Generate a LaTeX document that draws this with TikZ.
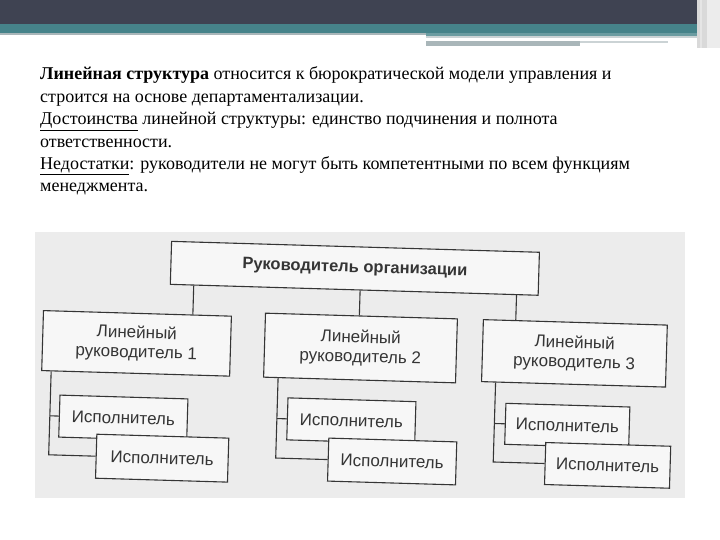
\documentclass[tikz,border=0pt]{standalone}
\usepackage{fontspec}
\setmainfont{Liberation Serif}
\newfontfamily\diagfont{Liberation Sans}
\usetikzlibrary{calc}
\definecolor{hdrdark}{HTML}{3F4352}
\definecolor{hdrteal}{HTML}{46838A}
\definecolor{hdrline}{HTML}{A9B6B9}
\definecolor{photobg}{HTML}{ECECEC}
\definecolor{boxfill}{HTML}{F7F7F7}
\definecolor{ink}{HTML}{353535}
\begin{document}
\begin{tikzpicture}[x=1pt,y=-1pt,
  para/.style={anchor=base west, inner sep=0pt, font=\fontsize{18}{20}\selectfont},
  orgbox/.style={draw=ink, line width=1.1pt, fill=boxfill, inner sep=0pt, align=center,
    text=ink, font=\diagfont\fontsize{17}{19.5}\selectfont, transform shape},
  link/.style={draw=ink, line width=1.1pt}]
\useasboundingbox (0,0) rectangle (720,540);
\fill[white] (0,0) rectangle (720,540);
% header band
\fill[hdrdark] (0,0) rectangle (720,24);
\fill[hdrteal] (0,24) rectangle (720,33);
\fill[hdrline] (0,33) rectangle (426,35);
\fill[hdrteal!80] (426,33) rectangle (697,36);
\fill[hdrline!60] (426,36) rectangle (697,38);
\fill[hdrline] (426,41) rectangle (580,46);
\fill[hdrline!60] (580,41) rectangle (668,43.5);
\fill[gray!30] (697,0) rectangle (720,48);
\fill[white!80!gray] (700,0) rectangle (702,48);
\fill[white!85!gray] (707,0) rectangle (720,48);
% paragraph
\node[para] (t1) at (40,80) {\textbf{Линейная структура} относится к бюрократической модели управления и};
\node[para] (t2) at (40,102.4) {строится на основе департаментализации.};
\node[para] (t3) at (40,124.8) {\underline{Достоинства} линейной структуры: единство подчинения и полнота};
\node[para] (t4) at (40,147.2) {ответственности.};
\node[para] (t5) at (40,169.6) {\underline{Недостатки}: руководители не могут быть компетентными по всем функциям};
\node[para] (t6) at (40,192) {менеджмента.};
% photo background
\fill[photobg] (35,232) rectangle (685,498);
\begin{scope}[rotate around={-1.7:(360,365)}]
  \node[orgbox, minimum width=368, minimum height=43, font=\diagfont\bfseries\fontsize{16.5}{19.5}\selectfont] (top) at (352,268.5) {Руководитель организации};
  \node[orgbox, minimum width=188, minimum height=60] (l1) at (136,350) {Линейный\\руководитель 1};
  \node[orgbox, minimum width=192, minimum height=64] (l2) at (360,348) {Линейный\\руководитель 2};
  \node[orgbox, minimum width=184, minimum height=62] (l3) at (574,347) {Линейный\\руководитель 3};
  \node[orgbox, minimum width=128, minimum height=42] (e1a) at (125,425) {Исполнитель};
  \node[orgbox, minimum width=132, minimum height=44] (e1b) at (165,464) {Исполнитель};
  \node[orgbox, minimum width=128, minimum height=42] (e2a) at (353,421) {Исполнитель};
  \node[orgbox, minimum width=128, minimum height=43] (e2b) at (395,460.5) {Исполнитель};
  \node[orgbox, minimum width=124, minimum height=41] (e3a) at (569,419.5) {Исполнитель};
  \node[orgbox, minimum width=125, minimum height=42] (e3b) at (610.5,458) {Исполнитель};
  % connectors from the head
  \coordinate (h1) at ($(top.south west)!0.065!(top.south east)$);
  \coordinate (h2) at ($(top.south west)!0.516!(top.south east)$);
  \coordinate (h3) at ($(top.south west)!0.94!(top.south east)$);
  \draw[link] (h1) -- ($(l1.north west)!(h1)!(l1.north east)$);
  \draw[link] (h2) -- ($(l2.north west)!(h2)!(l2.north east)$);
  \draw[link] (h3) -- ($(l3.north west)!(h3)!(l3.north east)$);
  % connectors to executors
  \coordinate (v1) at ($(l1.south west)!0.053!(l1.south east)$);
  \coordinate (v2) at ($(l2.south west)!0.078!(l2.south east)$);
  \coordinate (v3) at ($(l3.south west)!0.079!(l3.south east)$);
  \draw[link] (v1) -- ($(e1b.west)!(v1)!(e1b.east)$) -- (e1b.west);
  \draw[link] ($(e1a.west)!(v1)!(e1a.east)$) -- (e1a.west);
  \draw[link] (v2) -- ($(e2b.west)!(v2)!(e2b.east)$) -- (e2b.west);
  \draw[link] ($(e2a.west)!(v2)!(e2a.east)$) -- (e2a.west);
  \draw[link] (v3) -- ($(e3b.west)!(v3)!(e3b.east)$) -- (e3b.west);
  \draw[link] ($(e3a.west)!(v3)!(e3a.east)$) -- (e3a.west);
\end{scope}
\end{tikzpicture}
\end{document}
